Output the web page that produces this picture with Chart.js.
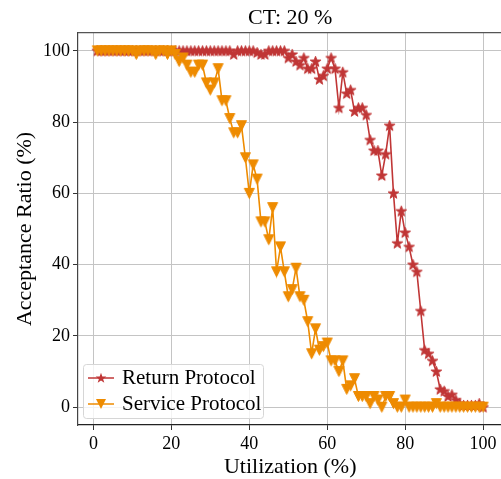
<!DOCTYPE html>
<html>
<head>
<meta charset="utf-8">
<script src="https://cdn.jsdelivr.net/npm/chart.js@4"></script>
<style>
  html, body { margin: 0; padding: 0; background: #fff; overflow: hidden; }
  #wrap { width: 509px; height: 479px; }
</style>
</head>
<body>
<div id="wrap"><canvas id="chart" width="509" height="479"></canvas></div>
<script>
// utilization (%) on the x axis
let utilization = [
    1, 2, 3, 4, 5, 6, 7, 8, 9, 10, 11, 12, 13, 14, 15, 16, 17, 18, 19, 20,
    21, 22, 23, 24, 25, 26, 27, 28, 29, 30, 31, 32, 33, 34, 35, 36, 37, 38, 39, 40,
    41, 42, 43, 44, 45, 46, 47, 48, 49, 50, 51, 52, 53, 54, 55, 56, 57, 58, 59, 60,
    61, 62, 63, 64, 65, 66, 67, 68, 69, 70, 71, 72, 73, 74, 75, 76, 77, 78, 79, 80,
    81, 82, 83, 84, 85, 86, 87, 88, 89, 90, 91, 92, 93, 94, 95, 96, 97, 98, 99, 100
];

let returnProtocol = [
    100, 100, 100, 100, 100, 100, 100, 100, 100, 100, 100, 100, 100, 100, 100, 100, 100, 100, 100, 100,
    100, 100, 100, 100, 100, 100, 100, 100, 100, 100, 100, 100, 100, 100, 100, 99, 100, 100, 100, 100,
    100, 99.5, 99, 99, 100, 100, 100, 100, 100, 98, 99, 97, 96, 98, 95, 95, 97, 92, 93, 95,
    98, 95, 84, 94, 88, 89, 83, 84, 84, 82, 75, 72, 72, 65, 71, 79, 60, 46, 55, 49,
    45, 40, 38, 27, 16, 15, 13, 10, 5, 4.5, 3, 3.5, 2, 1, 0.5, 0.5, 0.5, 0.5, 1, 0
];

let serviceProtocol = [
    100, 100, 100, 100, 100, 100, 100, 100, 100, 100, 99, 100, 100, 100, 100, 99, 100, 100, 99, 100,
    99, 97, 98, 96, 94, 94, 96, 96, 91, 89, 91, 95, 86, 86, 81, 77, 77, 79, 70, 60,
    68, 64, 52, 52, 47, 56, 38, 45, 38, 31, 33, 39, 31, 30, 24, 15, 22, 16, 17, 18,
    13, 13, 10, 13, 5, 6, 8, 3, 3, 3, 1, 3, 2, 0, 3, 3, 1, 0, 0, 2,
    0, 0, 0, 0, 0, 0, 0, 1, 0, 0, 0, 0, 0, 0, 0, 0, 0, 0, 0, 0
];

let xTicks = [0, 20, 40, 60, 80, 100];
let yTicks = [0, 20, 40, 60, 80, 100];

const RED = "#c03636";
const ORANGE = "#ee8b00";
const FONT = "'Liberation Serif', 'Times New Roman', serif";

function starPath(ctx, cx, cy, r) {
    let inner = r * 0.4;
    ctx.beginPath();
    for (let i = 0; i < 10; i++) {
        let rad = i % 2 == 0 ? r : inner;
        let a = -Math.PI / 2 + i * Math.PI / 5;
        let px = cx + rad * Math.cos(a), py = cy + rad * Math.sin(a);
        if (i == 0) ctx.moveTo(px, py); else ctx.lineTo(px, py);
    }
    ctx.closePath();
}

function triPath(ctx, cx, cy, r) {
    ctx.beginPath();
    ctx.moveTo(cx - r, cy - r);
    ctx.lineTo(cx + r, cy - r);
    ctx.lineTo(cx, cy + r);
    ctx.closePath();
}

function makeMarker(kind, color) {
    let c = document.createElement("canvas");
    c.width = 13;
    c.height = 13;
    let ctx = c.getContext("2d");
    ctx.fillStyle = color;
    ctx.strokeStyle = color;
    ctx.lineWidth = 1;
    if (kind == "star") starPath(ctx, 6.5, 6.8, 5.6);
    else triPath(ctx, 6.5, 6.5, 5);
    ctx.fill();
    ctx.stroke();
    return c;
}

let starImg = makeMarker("star", RED);
let triImg = makeMarker("tri", ORANGE);

function toPoints(values) {
    return utilization.map((u, i) => ({x: u, y: values[i]}));
}

// legend sits inside the plot, lower left
const insideLegend = {
    id: "insideLegend",
    afterDatasetsDraw(chart) {
        let ctx = chart.ctx;
        let x = 83, y = 364, w = 180, h = 54;
        ctx.save();
        ctx.beginPath();
        ctx.roundRect(x + 0.5, y + 0.5, w, h, 3);
        ctx.fillStyle = "rgba(255,255,255,0.8)";
        ctx.fill();
        ctx.strokeStyle = "#d6d6d6";
        ctx.lineWidth = 1;
        ctx.stroke();
        let rows = [
            {label: chart.data.datasets[0].label, color: RED, kind: "star", cy: y + 14},
            {label: chart.data.datasets[1].label, color: ORANGE, kind: "tri", cy: y + 40}
        ];
        rows.forEach(r => {
            ctx.strokeStyle = r.color;
            ctx.lineWidth = 1.5;
            ctx.beginPath();
            ctx.moveTo(x + 5, r.cy);
            ctx.lineTo(x + 31, r.cy);
            ctx.stroke();
            ctx.fillStyle = r.color;
            if (r.kind == "star") starPath(ctx, x + 18, r.cy + 0.3, 5.6);
            else triPath(ctx, x + 18, r.cy, 5);
            ctx.fill();
            ctx.fillStyle = "#000";
            ctx.font = "21px " + FONT;
            ctx.textBaseline = "middle";
            ctx.fillText(r.label, x + 39, r.cy);
        });
        ctx.restore();
    }
};

new Chart(document.getElementById("chart"), {
    type: "line",
    data: {
        datasets: [{
            label: "Return Protocol",
            data: toPoints(returnProtocol),
            borderColor: RED,
            backgroundColor: RED,
            borderWidth: 1.6,
            pointStyle: starImg,
            pointRadius: 5,
            order: 1
        }, {
            label: "Service Protocol",
            data: toPoints(serviceProtocol),
            borderColor: ORANGE,
            backgroundColor: ORANGE,
            borderWidth: 1.6,
            pointStyle: triImg,
            pointRadius: 5,
            order: 0
        }]
    },
    options: {
        responsive: false,
        animation: false,
        devicePixelRatio: 1,
        layout: {
            padding: {left: 0, right: 1.7, top: 0, bottom: 0}
        },
        plugins: {
            legend: {display: false},
            tooltip: {enabled: false},
            title: {display: false}
        },
        scales: {
            x: {
                type: "linear",
                position: "bottom",
                min: -3.95,
                max: 104.95,
                afterBuildTicks: axis => { axis.ticks = xTicks.map(v => ({value: v})); },
                afterFit: axis => { axis.height = 54; },
                grid: {color: "#c4c4c4", lineWidth: 1, tickColor: "#333", tickLength: 5, tickWidth: 1},
                border: {color: "#222", width: 1.2},
                ticks: {color: "#000", font: {family: FONT, size: 18}, padding: 3, maxRotation: 0},
                title: {display: true, text: "Utilization (%)", color: "#000", font: {family: FONT, size: 22}, padding: {top: 0, bottom: -1}}
            },
            x2: {
                type: "linear",
                position: "top",
                min: -3.95,
                max: 104.95,
                afterBuildTicks: axis => { axis.ticks = []; },
                afterFit: axis => { axis.height = 33; },
                grid: {display: false},
                border: {color: "#555", width: 1.2},
                ticks: {display: false},
                title: {display: true, text: "CT: 20 %", color: "#000", font: {family: FONT, size: 22}, padding: {top: 5, bottom: 0}}
            },
            y: {
                type: "linear",
                position: "left",
                min: -5,
                max: 105,
                afterBuildTicks: axis => { axis.ticks = yTicks.map(v => ({value: v})); },
                afterFit: axis => { axis.width = 78; },
                grid: {color: "#c4c4c4", lineWidth: 1, tickColor: "#333", tickLength: 5, tickWidth: 1},
                border: {color: "#444", width: 1.2},
                ticks: {color: "#000", font: {family: FONT, size: 18}, padding: 3},
                title: {display: true, text: "Acceptance Ratio (%)", color: "#000", font: {family: FONT, size: 22}, padding: {top: 12, bottom: 0}}
            }
        }
    },
    plugins: [insideLegend]
});
</script>
</body>
</html>
